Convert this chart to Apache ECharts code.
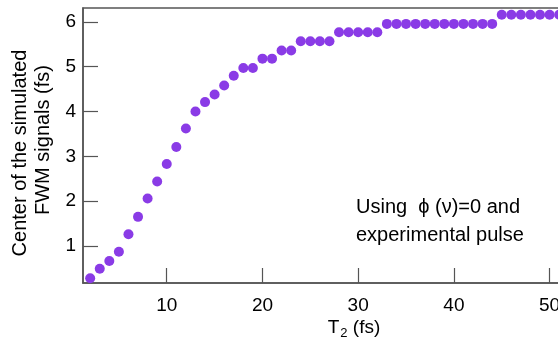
<!DOCTYPE html>
<html>
<head>
<meta charset="utf-8">
<script src="https://cdn.jsdelivr.net/npm/echarts@6/dist/echarts.min.js"></script>
<style>html,body{margin:0;padding:0;background:#fff}#c{width:558px;height:350px}</style>
</head>
<body>
<div id="c"></div>
<script>
const t2 = [2,3,4,5,6,7,8,9,10,11,12,13,14,15,16,17,18,19,20,21,22,23,24,25,26,27,28,29,30,31,32,33,34,35,36,37,38,39,40,41,42,43,44,45,46,47,48,49,50,51];
const center = [0.28,0.49,0.665,0.87,1.26,1.65,2.06,2.44,2.83,3.21,3.62,4.0,4.21,4.38,4.58,4.80,4.97,4.97,5.18,5.18,5.36,5.36,5.57,5.57,5.57,5.57,5.77,5.77,5.77,5.77,5.77,5.955,5.955,5.955,5.955,5.955,5.955,5.955,5.955,5.955,5.955,5.955,5.955,6.16,6.16,6.16,6.16,6.16,6.16,6.16];
const xTicks = [10,20,30,40,50];
const yTicks = [1,2,3,4,5,6];
const yTitle = ['Center of the simulated','FWM signals (fs)'];
const note = ['Using  \u03d5 (\u03bd)=0 and','experimental pulse'];

const FONT = 'Liberation Sans, Arial, sans-serif';
const chart = echarts.init(document.getElementById('c'), null, {renderer:'canvas'});
const axisLine = {show:true, lineStyle:{color:'#555', width:1.5}};
chart.setOption({
  animation:false,
  backgroundColor:'#fff',
  grid:{left:83, top:8, width:480, height:275, show:true, borderColor:'#555', borderWidth:1.5, containLabel:false, outerBoundsMode:'none'},
  xAxis:{type:'value', min:1.25, max:51.4, axisLine:axisLine,
    axisTick:{show:true, inside:true, length:15, customValues:xTicks, lineStyle:{color:'#555', width:1.2}},
    axisLabel:{customValues:xTicks, color:'#000', fontSize:19, fontFamily:FONT, margin:13},
    splitLine:{show:false}},
  yAxis:{type:'value', min:0.174, max:6.31, axisLine:axisLine,
    axisTick:{show:true, inside:true, length:15, customValues:yTicks, lineStyle:{color:'#555', width:1.2}},
    axisLabel:{customValues:yTicks, color:'#000', fontSize:19, fontFamily:FONT, margin:7},
    splitLine:{show:false}},
  series:[{type:'scatter', data:t2.map((t,i)=>[t,center[i]]), symbol:'circle', symbolSize:10,
    itemStyle:{color:'#8a3be6', opacity:1}, clip:false}],
  graphic:[
    {type:'text', x:20, y:153, rotation:Math.PI/2, style:{text:yTitle[0], fontSize:20, fontFamily:FONT, fill:'#000', align:'center', verticalAlign:'middle'}},
    {type:'text', x:43, y:140, rotation:Math.PI/2, style:{text:yTitle[1], fontSize:20, fontFamily:FONT, fill:'#000', align:'center', verticalAlign:'middle'}},
    {type:'text', x:356, y:207, style:{text:note[0], fontSize:20, fontFamily:FONT, fill:'#000', align:'left', verticalAlign:'middle'}},
    {type:'text', x:356, y:235, style:{text:note[1], fontSize:20, fontFamily:FONT, fill:'#000', align:'left', verticalAlign:'middle'}},
    {type:'text', x:354, y:328, style:{text:'{a|T}{b|2}{a| (fs)}', align:'center', verticalAlign:'middle',
      rich:{a:{fontSize:19, fontFamily:FONT, fill:'#000', color:'#000'}, b:{fontSize:13, fontFamily:FONT, color:'#000', fill:'#000', padding:[10,0,0,1]}}}}
  ]
});
</script>
</body>
</html>
